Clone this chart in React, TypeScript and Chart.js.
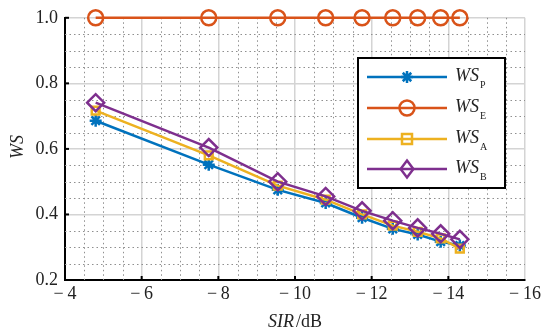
import React, { useEffect, useRef } from 'react';
import { Chart, registerables } from 'chart.js';

Chart.register(...registerables);

// ---- data ----
const sirValues = [-4.8, -7.75, -9.55, -10.8, -11.75, -12.55, -13.2, -13.8, -14.3];
const wsP = [0.686, 0.552, 0.475, 0.435, 0.39, 0.356, 0.339, 0.317, 0.305];
const wsE = [1.0, 1.0, 1.0, 1.0, 1.0, 1.0, 1.0, 1.0, 1.0];
const wsA = [0.717, 0.58, 0.488, 0.445, 0.4, 0.366, 0.347, 0.327, 0.296];
const wsB = [0.741, 0.604, 0.5, 0.455, 0.411, 0.381, 0.359, 0.341, 0.324];
const seriesSubs = ['P', 'E', 'A', 'B'];
const seriesColors = ['#0072BD', '#D95319', '#EDB120', '#7E2F8E'];
const seriesMarkers = ['star', 'circle', 'rect', 'rectRot'];

const SERIF = '"Liberation Serif", "DejaVu Serif", serif';
const TEXT = '#222';

function drawMarker(ctx: CanvasRenderingContext2D, kind: string, x: number, y: number, color: string) {
  ctx.save();
  ctx.strokeStyle = color;
  ctx.lineWidth = 2.5;
  ctx.beginPath();
  if (kind === 'star') {
    const r = 6;
    for (let i = 0; i < 4; i++) {
      const a = (i * Math.PI) / 4;
      ctx.moveTo(x - r * Math.cos(a), y - r * Math.sin(a));
      ctx.lineTo(x + r * Math.cos(a), y + r * Math.sin(a));
    }
  } else if (kind === 'circle') {
    ctx.arc(x, y, 7.5, 0, Math.PI * 2);
  } else if (kind === 'rect') {
    ctx.rect(x - 5, y - 5, 10, 10);
  } else {
    const r = 8.5;
    ctx.moveTo(x, y - r);
    ctx.lineTo(x + r * 0.75, y);
    ctx.lineTo(x, y + r);
    ctx.lineTo(x - r * 0.75, y);
    ctx.closePath();
  }
  ctx.stroke();
  ctx.restore();
}

const decor = {
  id: 'decor',
  beforeDatasetsDraw(chart: any) {
    const { ctx, chartArea, scales } = chart;
    const { left, right, top, bottom } = chartArea;
    const x = scales.x;
    const y = scales.y;
    ctx.save();
    ctx.strokeStyle = '#8f8f8f';
    ctx.lineWidth = 1;
    ctx.setLineDash([1.5, 3]);
    for (let v = -4.5; v > -16; v -= 0.5) {
      if (Math.abs(v % 2) < 1e-6) continue;
      const px = Math.round(x.getPixelForValue(v)) + 0.5;
      ctx.beginPath();
      ctx.moveTo(px, top);
      ctx.lineTo(px, bottom);
      ctx.stroke();
    }
    for (let i = 1; i < 16; i++) {
      if (i % 4 === 0) continue;
      const v = 0.2 + i * 0.05;
      const py = Math.round(y.getPixelForValue(v)) + 0.5;
      ctx.beginPath();
      ctx.moveTo(left, py);
      ctx.lineTo(right, py);
      ctx.stroke();
    }
    ctx.setLineDash([]);
    // inward tick marks
    ctx.strokeStyle = '#000';
    ctx.lineWidth = 2;
    for (let v = -6; v > -16; v -= 2) {
      const px = x.getPixelForValue(v);
      ctx.beginPath();
      ctx.moveTo(px, bottom);
      ctx.lineTo(px, bottom - 4);
      ctx.stroke();
    }
    for (let v = 0.4; v < 1.05; v += 0.2) {
      const py = y.getPixelForValue(v);
      ctx.beginPath();
      ctx.moveTo(left, py);
      ctx.lineTo(left + 4, py);
      ctx.stroke();
    }
    ctx.restore();
  },
  afterDraw(chart: any) {
    const { ctx } = chart;
    ctx.save();
    // axis titles
    ctx.fillStyle = TEXT;
    ctx.textBaseline = 'middle';
    ctx.font = `italic 18px ${SERIF}`;
    ctx.save();
    ctx.translate(18, 147);
    ctx.rotate(-Math.PI / 2);
    ctx.textAlign = 'center';
    ctx.fillText('WS', 0, 0);
    ctx.restore();
    ctx.textAlign = 'left';
    ctx.font = `italic 18px ${SERIF}`;
    const w1 = ctx.measureText('SIR').width;
    ctx.font = `18px ${SERIF}`;
    const w2 = ctx.measureText('/dB').width;
    const sx = 295 - (w1 + w2 + 2) / 2;
    ctx.font = `italic 18px ${SERIF}`;
    ctx.fillText('SIR', sx, 322);
    ctx.font = `18px ${SERIF}`;
    ctx.fillText('/dB', sx + w1 + 2, 322);

    // legend
    const bx = 358, by = 58, bw = 147, bh = 130;
    ctx.fillStyle = '#fff';
    ctx.fillRect(bx, by, bw, bh);
    ctx.strokeStyle = '#000';
    ctx.lineWidth = 2;
    ctx.strokeRect(bx, by, bw, bh);
    const rows = [77, 108, 139, 169];
    for (let i = 0; i < 4; i++) {
      const ry = rows[i];
      ctx.strokeStyle = seriesColors[i];
      ctx.lineWidth = 2.5;
      ctx.beginPath();
      ctx.moveTo(367, ry);
      ctx.lineTo(447, ry);
      ctx.stroke();
      drawMarker(ctx, seriesMarkers[i], 407, ry, seriesColors[i]);
      ctx.fillStyle = TEXT;
      ctx.textAlign = 'left';
      ctx.textBaseline = 'middle';
      ctx.font = `italic 18px ${SERIF}`;
      ctx.fillText('WS', 455, ry - 1);
      const ww = ctx.measureText('WS').width;
      ctx.font = `10px ${SERIF}`;
      ctx.fillText(seriesSubs[i], 455 + ww + 1, ry + 8);
    }
    ctx.restore();
  },
};

export default function App() {
  const ref = useRef<HTMLCanvasElement>(null);
  useEffect(() => {
    const canvas = ref.current!;
    const allSeries = [wsP, wsE, wsA, wsB];
    const datasets = allSeries.map((vals, i) => ({
      label: 'WS' + seriesSubs[i],
      data: sirValues.map((sx, j) => ({ x: sx, y: vals[j] })),
      showLine: true,
      borderColor: seriesColors[i],
      borderWidth: 2.5,
      pointStyle: seriesMarkers[i] as any,
      pointRadius: [6, 7.5, 5.5, 8.5][i],
      pointBorderWidth: 2.5,
      pointBorderColor: seriesColors[i],
      pointBackgroundColor: 'rgba(0,0,0,0)',
      order: 4 - i,
      clip: false as any,
    }));
    const chart = new Chart(canvas, {
      type: 'scatter',
      data: { datasets },
      plugins: [decor],
      options: {
        animation: false,
        responsive: false,
        layout: { padding: { left: 0, right: 19, top: 14, bottom: 0 } },
        plugins: { legend: { display: false }, tooltip: { enabled: false } },
        scales: {
          x: {
            type: 'linear',
            reverse: true,
            min: -16,
            max: -4,
            ticks: {
              stepSize: 2,
              padding: 3,
              color: TEXT,
              font: { family: SERIF, size: 18 },
              callback: (v: any) => (v < 0 ? '\u2212\u2009' : '') + Math.abs(v),
            },
            grid: { color: '#d4d4d4', lineWidth: 1.5, drawTicks: false },
            border: { display: true, color: '#000', width: 2 },
            afterFit: (s: any) => { s.height = 54; },
          },
          y: {
            min: 0.2,
            max: 1.0,
            ticks: {
              stepSize: 0.2,
              padding: 7,
              color: TEXT,
              font: { family: SERIF, size: 18 },
              callback: (v: any) => Number(v).toFixed(1),
            },
            grid: { color: '#d4d4d4', lineWidth: 1.5, drawTicks: false },
            border: { display: true, color: '#000', width: 2 },
            afterFit: (s: any) => { s.width = 65; },
          },
        },
      },
    });
    return () => chart.destroy();
  }, []);
  return (
    <div style={{ position: 'fixed', left: 0, top: 0, width: 544, height: 334, background: '#fff' }}>
      <canvas ref={ref} width={544} height={334} style={{ display: 'block' }} />
    </div>
  );
}
